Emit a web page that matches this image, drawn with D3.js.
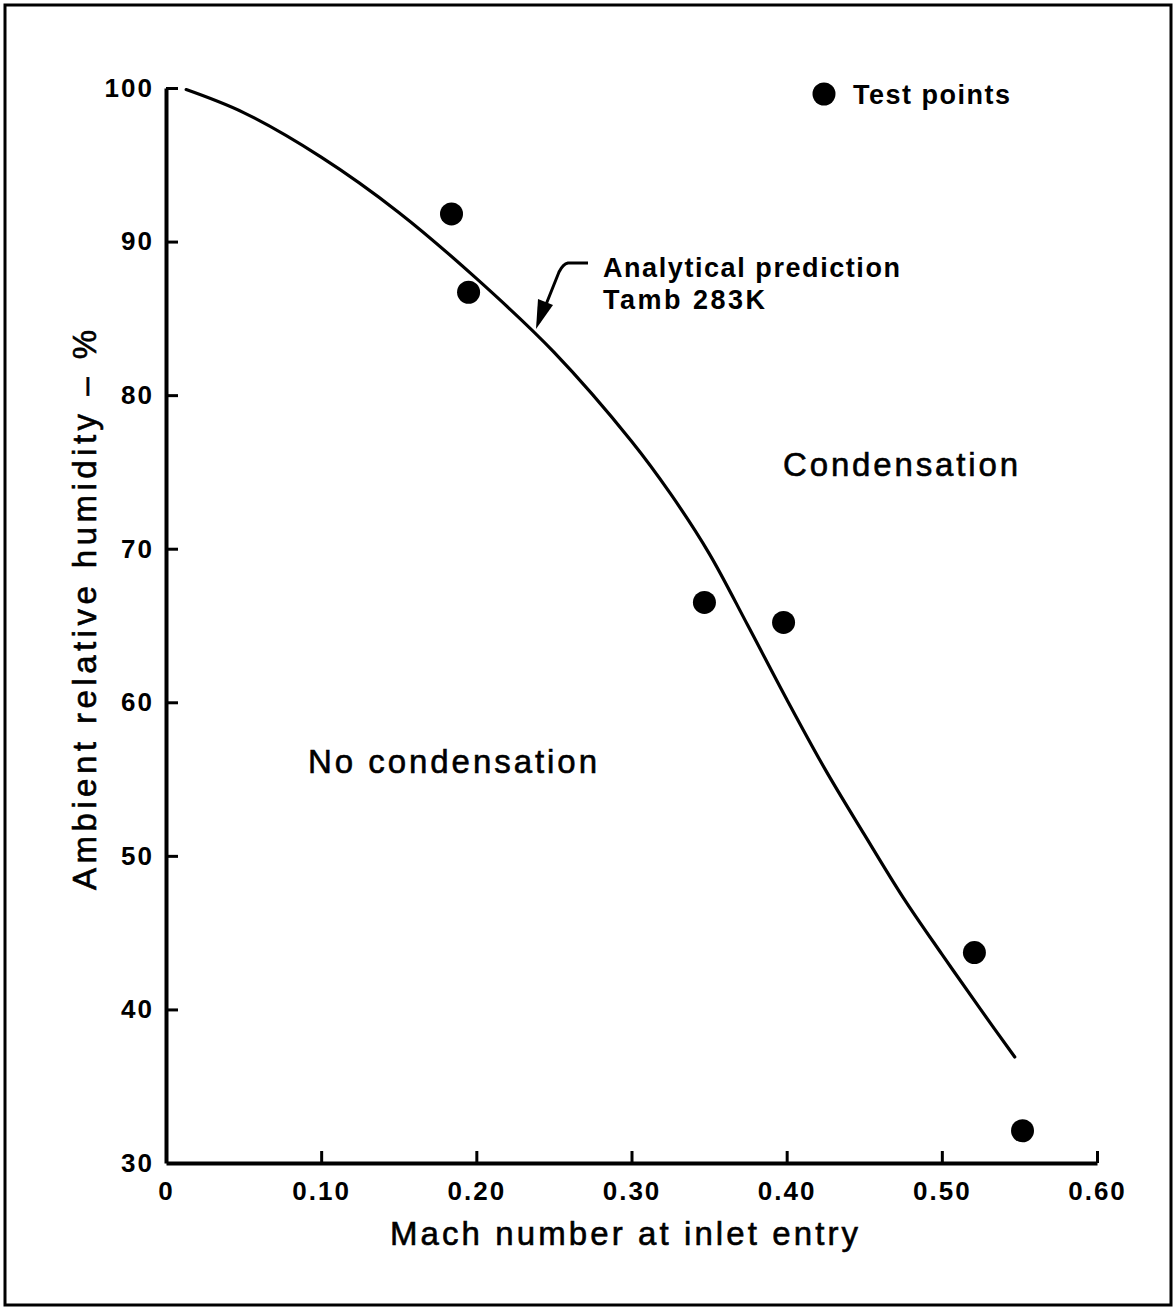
<!DOCTYPE html>
<html><head><meta charset="utf-8">
<script src="https://cdn.jsdelivr.net/npm/d3@7"></script>
<style>body{margin:0;background:#fff}svg{display:block}text{font-family:"Liberation Sans",Arial,sans-serif;fill:#000}</style>
</head><body>
<script>
const xTicks = [0, 0.10, 0.20, 0.30, 0.40, 0.50, 0.60];
const xTickLabels = ["0", "0.10", "0.20", "0.30", "0.40", "0.50", "0.60"];
const yTicks = [30, 40, 50, 60, 70, 80, 90, 100];
const testMach = [0.184, 0.195, 0.347, 0.398, 0.521, 0.552];
const testHumidity = [91.8, 86.7, 66.5, 65.2, 43.7, 32.1];
const curveMach = [0.013, 0.05, 0.10, 0.15, 0.20, 0.25, 0.30, 0.325, 0.35, 0.375, 0.40, 0.425, 0.45, 0.475, 0.50, 0.525, 0.547];
const curveHumidity = [99.9, 98.4, 95.5, 91.9, 87.6, 82.8, 77.0, 73.6, 69.7, 65.0, 60.2, 55.6, 51.4, 47.3, 43.6, 40.0, 36.9];

const W = 1175, H = 1309;
const svg = d3.select("body").append("svg").attr("width", W).attr("height", H);
svg.append("rect").attr("x", 5).attr("y", 5).attr("width", 1166).attr("height", 1300)
  .attr("fill", "none").attr("stroke", "#000").attr("stroke-width", 3);

const x = d3.scaleLinear().domain([0, 0.6]).range([166, 1097]);
const y = d3.scaleLinear().domain([30, 100]).range([1163, 88]);

const yAxis = svg.append("g").attr("transform", `translate(${x(0)},0)`)
  .call(d3.axisLeft(y).tickValues(yTicks).tickSizeInner(-12).tickSizeOuter(0).tickPadding(14).tickFormat(d3.format("d")));
const xAxis = svg.append("g").attr("transform", `translate(0,${y(30)})`)
  .call(d3.axisBottom(x).tickValues(xTicks).tickSizeInner(-12).tickSizeOuter(0).tickPadding(19).tickFormat((d, i) => xTickLabels[i]));
[yAxis, xAxis].forEach(g => {
  g.select(".domain").attr("stroke", "#000").attr("stroke-width", 4);
  g.selectAll(".tick line").attr("stroke", "#000").attr("stroke-width", 3);
  g.selectAll(".tick text").attr("font-size", 26).attr("font-weight", "bold").attr("letter-spacing", 2)
    .attr("font-family", "'Liberation Sans',Arial,sans-serif").attr("fill", "#000");
});
yAxis.selectAll(".tick text").attr("dx", 2);
yAxis.selectAll(".tick").filter(d => d === 30).select("line").remove();
xAxis.selectAll(".tick").filter(d => d === 0).select("line").remove();

const pts = d3.zip(curveMach, curveHumidity);
svg.append("path").datum(pts)
  .attr("d", d3.line().x(d => x(d[0])).y(d => y(d[1])).curve(d3.curveCatmullRom.alpha(0.5)))
  .attr("fill", "none").attr("stroke", "#000").attr("stroke-width", 3.2).attr("stroke-linecap", "round");

svg.append("g").selectAll("circle").data(d3.zip(testMach, testHumidity)).join("circle")
  .attr("cx", d => x(d[0])).attr("cy", d => y(d[1])).attr("r", 11.5).attr("fill", "#000");

function label(xp, yp, txt, size, weight, len, anchor) {
  const t = svg.append("text").attr("x", xp).attr("y", yp).attr("font-size", size)
    .attr("font-weight", weight).text(txt);
  if (len) t.attr("textLength", len).attr("lengthAdjust", "spacing");
  if (anchor) t.attr("text-anchor", anchor);
  if (weight === "normal") t.attr("stroke", "#000").attr("stroke-width", 0.6);
  return t;
}

// legend
svg.append("circle").attr("cx", 824).attr("cy", 94).attr("r", 11.5).attr("fill", "#000");
label(853, 104, "Test points", 27, "bold", 157);

// annotation
svg.append("path").attr("d", "M588,263 L568,263 Q563,264 559,272 L539,322")
  .attr("fill", "none").attr("stroke", "#000").attr("stroke-width", 3);
svg.append("path").attr("d", "M536,329 L538,299 L553,305 Z").attr("fill", "#000");
label(603, 277, "Analytical prediction", 27, "bold", 297);
label(603, 309, "Tamb 283K", 27, "bold", 162);

label(783, 476, "Condensation", 33, "normal", 235);
label(308, 773, "No condensation", 33, "normal", 289);
label(390, 1245, "Mach number at inlet entry", 33, "normal", 468);
label(0, 0, "Ambient relative humidity  –  %", 33, "normal", 560)
  .attr("transform", "translate(96,890) rotate(-90)");
</script>
</body></html>
